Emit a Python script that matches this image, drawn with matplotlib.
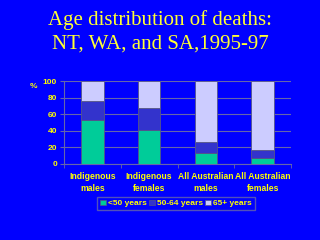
import numpy as np
import matplotlib.pyplot as plt
from matplotlib.patches import Patch

categories = ['Indigenous\nmales', 'Indigenous\nfemales', 'All Australian\nmales', 'All Australian\nfemales']
under50 = [53, 41, 13, 7]
age50_64 = [23, 26, 14, 9.5]
over65 = [24, 33, 73, 83.5]
series_names = ['<50 years', '50-64 years', '65+ years']
colors = ['#00CC99', '#3333CC', '#CCCCFF']

bg = '#0000FF'
yellow = '#FFFF00'
grid_col = '#6666AA'
plt.rcParams['font.family'] = ['Liberation Sans', 'DejaVu Sans']

fig = plt.figure(figsize=(3.2, 2.4), dpi=100, facecolor=bg)
ax = fig.add_axes([64/320, 1 - 164/240, (291-64)/320, (164-81)/240])
ax.set_facecolor(bg)

x = np.arange(len(categories))
bottom = np.zeros(len(categories))
for vals, col in zip([under50, age50_64, over65], colors):
    ax.bar(x, vals, width=0.4, bottom=bottom, color=col, edgecolor='#555588', linewidth=0.6, zorder=3)
    bottom += np.array(vals)

ax.set_xlim(-0.5, len(categories) - 0.5)
ax.set_ylim(0, 100)
ax.set_yticks([0, 20, 40, 60, 80, 100])
ax.yaxis.grid(True, color=grid_col, linewidth=0.8, zorder=0)
ax.set_xticks(x)
ax.set_xticklabels(categories, fontsize=6.2, color=yellow, fontweight='bold', linespacing=1.35)
ax.set_xticks(np.arange(len(categories) + 1) - 0.5, minor=True)
ax.tick_params(axis='x', which='major', length=0, pad=6)
ax.tick_params(axis='x', which='minor', length=3, color=grid_col)
ax.tick_params(axis='y', labelsize=6, labelcolor=yellow, color=grid_col, length=3, pad=2)
for lab in ax.get_yticklabels():
    lab.set_fontweight('bold')
for side in ['top', 'right']:
    ax.spines[side].set_visible(False)
for side in ['left', 'bottom']:
    ax.spines[side].set_color(grid_col)

fig.text(34/320, 1 - 87/240, '%', fontsize=6, color=yellow, fontweight='bold', ha='center', va='center')

fig.text(0.5, 1 - 20/240, 'Age distribution of deaths:', fontsize=15, color='#FFFF33',
         family='Liberation Serif', ha='center', va='center')
fig.text(0.5, 1 - 44/240, 'NT, WA, and SA,1995-97', fontsize=15, color='#FFFF33',
         family='Liberation Serif', ha='center', va='center')

handles = [Patch(facecolor=c, edgecolor='#555588', linewidth=0.5) for c in colors]
leg = fig.legend(handles, series_names, loc='center', bbox_to_anchor=(176/320, 1 - 203.5/240),
                 ncol=3, fontsize=6, frameon=True, handlelength=0.7, handleheight=0.7,
                 handletextpad=0.25, columnspacing=0.25, borderpad=0.35)
leg.get_frame().set_facecolor(bg)
leg.get_frame().set_edgecolor(grid_col)
leg.get_frame().set_boxstyle('square', pad=0)
for t in leg.get_texts():
    t.set_color(yellow)
    t.set_fontweight('bold')

fig.savefig('out.png', dpi=100, facecolor=bg)
